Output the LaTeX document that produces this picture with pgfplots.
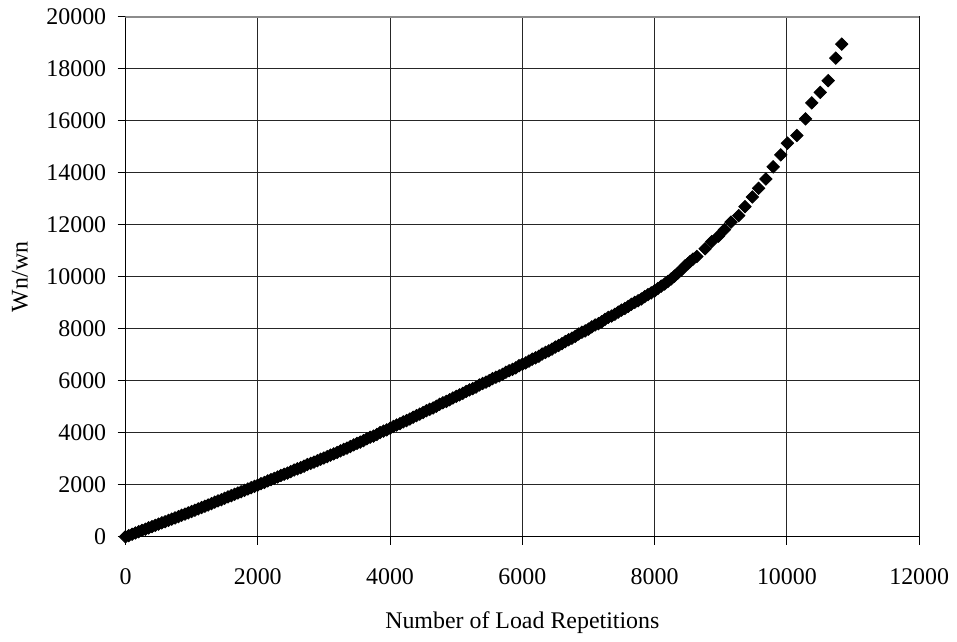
\documentclass[border=0pt]{standalone}
\usepackage{pgfplots}
\pgfplotsset{compat=1.18}
\usepackage{fontspec}
\setmainfont{Liberation Serif}

\pgfplotstableread{
x y
0 0
50 45
100 95
150 148
200 195
250 245
300 290
350 342
400 390
450 440
500 485
550 535
600 580
650 632
700 680
750 725
800 775
850 828
900 875
950 920
1000 970
1050 1022
1100 1070
1150 1125
1200 1175
1250 1222
1300 1275
1350 1330
1400 1380
1450 1428
1500 1480
1550 1532
1600 1580
1650 1635
1700 1685
1750 1732
1800 1785
1850 1840
1900 1890
1950 1938
2000 1990
2050 2045
2100 2090
2150 2150
2200 2200
2250 2245
2300 2300
2350 2358
2400 2405
2450 2452
2500 2505
2550 2565
2600 2615
2650 2660
2700 2715
2750 2778
2800 2825
2850 2870
2900 2925
2950 2985
3000 3030
3050 3082
3100 3140
3150 3190
3200 3245
3250 3305
3300 3365
3350 3410
3400 3470
3450 3535
3500 3590
3550 3640
3600 3700
3650 3770
3700 3830
3750 3875
3800 3935
3850 4010
3900 4065
3950 4110
4000 4175
4050 4245
4100 4300
4150 4355
4200 4420
4250 4470
4300 4530
4350 4600
4400 4665
4450 4720
4500 4780
4550 4850
4600 4905
4650 4955
4700 5020
4750 5095
4800 5155
4850 5205
4900 5270
4950 5340
5000 5400
5050 5455
5100 5520
5150 5590
5200 5650
5250 5700
5300 5760
5350 5840
5400 5900
5450 5950
5500 6010
5550 6085
5600 6140
5650 6190
5700 6250
5750 6330
5800 6390
5850 6440
5900 6500
5950 6580
6000 6635
6050 6690
6100 6760
6150 6830
6200 6885
6250 6945
6300 7030
6350 7090
6400 7150
6450 7220
6500 7300
6550 7360
6600 7430
6650 7510
6700 7580
6750 7640
6800 7710
6850 7800
6900 7870
6950 7920
7000 7990
7050 8075
7100 8150
7150 8200
7200 8270
7250 8365
7300 8440
7350 8490
7400 8560
7450 8645
7500 8720
7550 8785
7600 8860
7650 8945
7700 9020
7750 9080
7800 9150
7850 9240
7900 9320
7950 9385
8000 9460
8050 9550
8100 9640
8150 9725
8200 9820
8250 9920
8300 10030
8350 10140
8400 10250
8460 10420
8500 10500
8537 10592
8580 10680
8639 10784
8764 11079
8864 11359
8965 11566
9056 11819
9155 12103
9271 12356
9366 12701
9477 13073
9572 13406
9682 13763
9793 14234
9908 14694
10008 15143
10151 15441
10282 16080
10377 16693
10504 17100
10624 17548
10739 18418
10829 18954
}\wnratio

\begin{document}
\fontsize{12pt}{14pt}\selectfont
\begin{tikzpicture}
\begin{axis}[
    scale only axis,
    width=398.5pt, height=261pt,
    xmin=0, xmax=12000, ymin=0, ymax=20000,
    xtick={0,2000,...,12000},
    ytick={0,2000,...,20000},
    scaled ticks=false,
    tick pos=left,
    tick align=outside,
    major tick length=4pt,
    tick style={black, line width=0.5pt},
    grid=major,
    major grid style={black!85, line width=0.5pt},
    axis line style={black, line width=0.5pt},
    /pgf/number format/.cd, 1000 sep={}, assume math mode=true,
    /pgfplots/.cd,
    xticklabel style={yshift=-8pt},
    yticklabel style={xshift=-1.5pt},
    xlabel={Number of Load Repetitions},
    ylabel={Wn/wn},
    xlabel style={at={(axis description cs:0.5,0)}, anchor=center, yshift=-43pt},
    ylabel style={at={(axis description cs:0,0.5)}, anchor=center, yshift=53pt},
  ]
  \addplot[only marks, mark=square*, mark size=2.2pt,
    mark options={rotate=45, fill=black, draw=black}] table {\wnratio};
  \draw[black!45, line width=0.6pt] (rel axis cs:0,1) -- (rel axis cs:1,1) -- (rel axis cs:1,0);
\end{axis}
\path (-63pt,-48.5pt) rectangle (415.5pt,269.5pt);
\end{tikzpicture}
\end{document}
